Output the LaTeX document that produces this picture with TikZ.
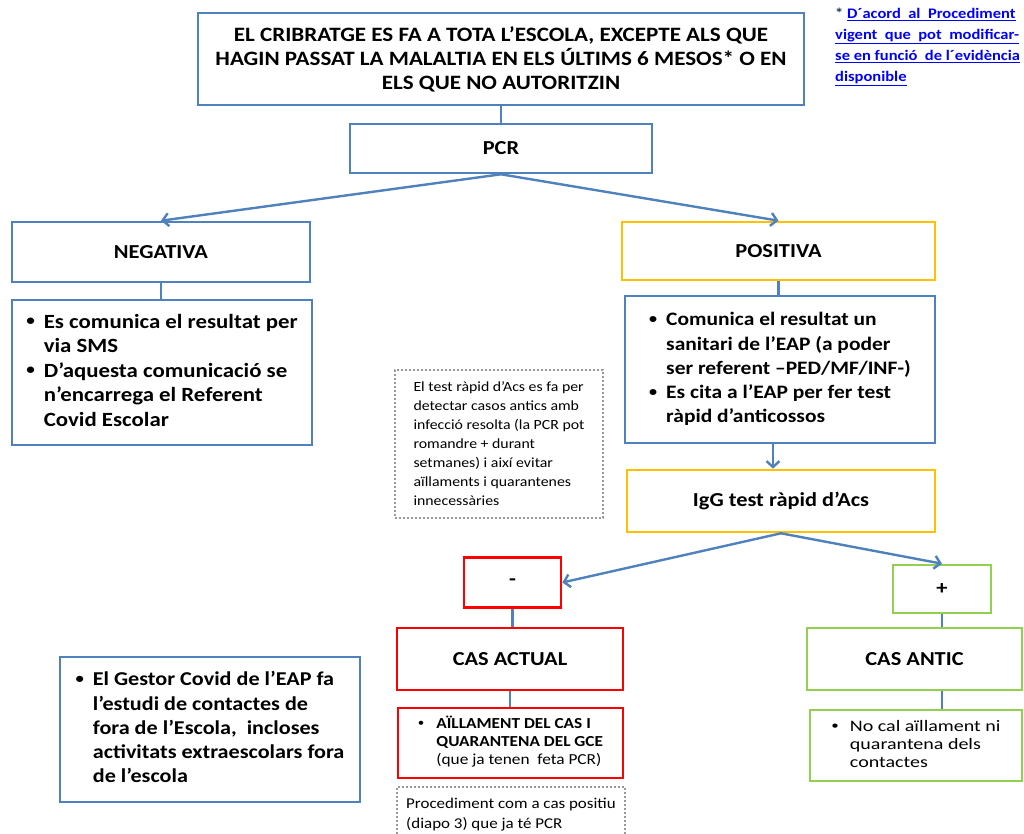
\documentclass[tikz,border=0pt]{standalone}
\usepackage{fontspec}
\usepackage{graphicx}
\setmainfont{Carlito}
\newfontfamily\wide{Carlito}[FakeStretch=1.13]
\newfontfamily\wider{Carlito}[FakeStretch=1.25]
\usetikzlibrary{arrows.meta}
\definecolor{ofblue}{HTML}{4F81BD}
\definecolor{ofyellow}{HTML}{FFC000}
\definecolor{ofred}{HTML}{FF0000}
\definecolor{ofgreen}{HTML}{92D050}
\definecolor{linkblue}{HTML}{0000FF}
\definecolor{starblue}{HTML}{17375E}
\newcommand{\bul}{\raisebox{0.12em}{\scalebox{0.75}{\textbullet}}}
\newcommand{\blist}[2]{\begin{tabular}{@{}l@{\hspace{#1}}l@{}}#2\end{tabular}}
\tikzset{wh/.style 2 args={minimum width=#1pt,minimum height=#2pt}}

\begin{document}
\begin{tikzpicture}[x=1pt,y=-1pt,>={Straight Barb[length=6pt,width=13pt]}]
        \tikzstyle{bx}=[draw=ofblue,line width=2.6pt,inner sep=0pt,align=center,text=black]
        \tikzstyle{yb}=[bx,draw=ofyellow]
        \tikzstyle{rb}=[bx,draw=ofred]
        \tikzstyle{gb}=[bx,draw=ofgreen]
        \tikzstyle{dots}=[draw=gray!80,dotted,line width=2pt,inner sep=0pt,align=left]
        \tikzstyle{lnk}=[draw=ofblue,line width=2.4pt]
        \tikzstyle{lab}=[font=\wide\fontsize{19.8}{23}\selectfont\bfseries]

        \clip (0,0) rectangle (1024,834);

        % first level
        \node[bx,wh={606}{92},font=\wide\fontsize{20.4}{24}\selectfont\bfseries] (top) at (501,59)
            {EL CRIBRATGE ES FA A TOTA L’ESCOLA, EXCEPTE ALS QUE\\
             HAGIN PASSAT LA MALALTIA EN ELS ÚLTIMS 6 MESOS* O EN\\
             ELS QUE NO AUTORITZIN};
        \node[bx,wh={302}{49},lab] (pcr) at (501,148.5) {PCR};
        \node[bx,wh={298}{60},lab] (neg) at (161,252) {NEGATIVA};
        \node[yb,wh={313}{58},lab] (pos) at (778.5,251) {POSITIVA};

        % result boxes
        \node[bx,wh={300}{145},font=\wide\fontsize{20.2}{24.5}\selectfont\bfseries] (negtxt) at (162,372.5) {\blist{9pt}{
            \bul & Es comunica el resultat per\\
                 & via SMS\\
            \bul & D’aquesta comunicació se\\
                 & n’encarrega el Referent\\
                 & Covid Escolar}};
        \node[bx,wh={310}{147},font=\wide\fontsize{19}{24.3}\selectfont\bfseries] (postxt) at (780,369.5) {\blist{9pt}{
            \bul & Comunica el resultat un\\
                 & sanitari de l’EAP (a poder\\
                 & ser referent –PED/MF/INF-)\\
            \bul & Es cita a l’EAP per fer test\\
                 & ràpid d’anticossos}};
        \node[dots,wh={208}{148},font=\wide\fontsize{14}{19}\selectfont] (why) at (499,444)
            {El test ràpid d’Acs es fa per\\
             detectar casos antics amb\\
             infecció resolta (la PCR pot\\
             romandre + durant\\
             setmanes) i així evitar\\
             aïllaments i quarantenes\\
             innecessàries};
        \node[yb,wh={308}{62},lab] (igg) at (781,501) {IgG test ràpid d’Acs};

        % antibody result
        \node[rb,wh={97}{50},lab] (minus) at (512.5,582.5) {-};
        \node[gb,wh={98}{48},lab] (plus) at (942,589) {+};
        \node[rb,wh={226}{62},lab] (actual) at (510,659) {CAS ACTUAL};
        \node[gb,wh={215}{62},lab] (antic) at (914.5,659) {CAS ANTIC};
        \node[rb,wh={225}{70},font=\wide\fontsize{15.3}{18}\selectfont] (ail) at (510.5,743) {\blist{12pt}{
            \bul & \textbf{AÏLLAMENT DEL CAS I}\\
                 & \textbf{QUARANTENA DEL GCE}\\
                 & (que ja tenen \ feta PCR)}};
        \node[dots,wh={228}{55},font=\wide\fontsize{15}{20}\selectfont] (proc) at (511,814.5)
            {Procediment com a cas positiu\\
             (diapo 3) que ja té PCR};
        \node[gb,wh={212}{71},font=\wider\fontsize{16}{18}\selectfont] (nocal) at (916,745.5) {\blist{11pt}{
            \bul & No cal aïllament ni\\
                 & quarantena dels\\
                 & contactes}};
        \node[bx,wh={300}{145},font=\wide\fontsize{19.6}{24.3}\selectfont\bfseries] (gestor) at (210,729.5) {\blist{9pt}{
            \bul & El Gestor Covid de l’EAP fa\\
                 & l’estudi de contactes de\\
                 & fora de l’Escola, \ incloses\\
                 & activitats extraescolars fora\\
                 & de l’escola}};

        % footnote
        \node[anchor=north west,align=left,inner sep=0pt,
              font=\wide\fontsize{14.6}{21}\selectfont\bfseries,text=linkblue] (fn) at (835,8)
            {\textcolor{starblue}{*} \underline{D´acord \ al \ Procediment}\\
             \underline{vigent \ que \ pot \ modificar-}\\
             \underline{se en funció \ de l´evidència}\\
             \underline{disponible}};

        % connectors
        \draw[lnk] (top) -- (pcr);
        \draw[lnk,->] (pcr.south) -- (neg.north);                   % pcr->neg
        \draw[lnk,->] (pcr.south) -- (pos.north);                   % pcr->pos
        \draw[lnk] (neg.south) -- (neg.south |- negtxt.north);
        \draw[lnk] (pos.south) -- (pos.south |- postxt.north);
        \draw[lnk,->] ([xshift=-7pt]postxt.south) -- ([xshift=-7pt]postxt.south |- igg.north);
        \draw[lnk,->] (igg.south) -- (minus.east);                  % igg->minus
        \draw[lnk,->] (igg.south) -- (plus.north);                  % igg->plus
        \draw[lnk] (minus.south) -- (minus.south |- actual.north);
        \draw[lnk] (plus.south) -- (plus.south |- antic.north);
        \draw[lnk] (actual.south) -- (actual.south |- ail.north);
        \draw[lnk] (plus.south |- antic.south) -- (plus.south |- nocal.north);
\end{tikzpicture}
\end{document}
